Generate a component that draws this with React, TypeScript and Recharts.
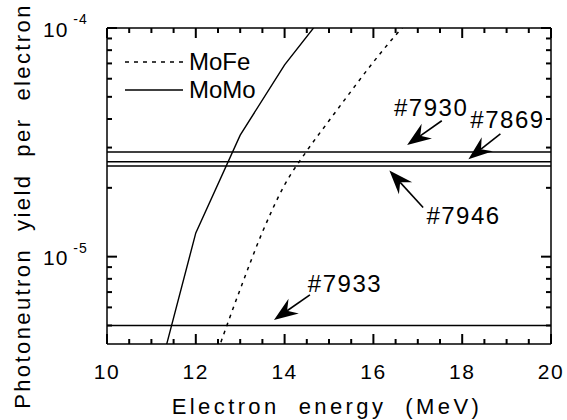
import React from 'react';
import { LineChart, Line, XAxis, YAxis, ReferenceLine, ReferenceDot, Legend } from 'recharts';

const FONT = '"Liberation Sans", Arial, Helvetica, sans-serif';

// curves (electron energy in MeV, photoneutron yield per electron)
const momoEnergy = [11, 12, 13, 14, 15];
const momoYield = [2.3e-6, 1.27e-5, 3.4e-5, 6.9e-5, 1.22e-4];
const mofeEnergy = [12.5, 13, 13.5, 14, 14.5, 15, 15.5, 16, 16.5, 17];
const mofeYield = [3.9e-6, 7.2e-6, 1.28e-5, 2.06e-5, 2.9e-5, 3.93e-5, 5.3e-5, 7.1e-5, 9.3e-5, 1.18e-4];

// measured runs (horizontal lines)
const runNames = ['#7930', '#7869', '#7946', '#7933'];
const runYield = [2.87e-5, 2.6e-5, 2.49e-5, 5.0e-6];
// arrow tail / tip and label centre, in data units
const arrowTail = [[17.54, 3.93e-5], [18.86, 3.44e-5], [17.12, 1.64e-5], [14.57, 6.8e-6]];
const arrowTip = [[16.76, 3.08e-5], [18.14, 2.67e-5], [16.36, 2.38e-5], [13.76, 5.29e-6]];
const labelPos = [[17.3, 4.47e-5], [19.02, 3.96e-5], [18.03, 1.51e-5], [15.36, 7.67e-6]];

// axes
const xDomain = [10, 20];
const xTicks = [10, 10.5, 11, 11.5, 12, 12.5, 13, 13.5, 14, 14.5, 15, 15.5, 16, 16.5, 17, 17.5, 18, 18.5, 19, 19.5, 20];
const xLabelTicks = [10, 12, 14, 16, 18, 20];
const yDomain = [4.15e-6, 1e-4];
const yTicks = [5e-6, 6e-6, 7e-6, 8e-6, 9e-6, 1e-5, 2e-5, 3e-5, 4e-5, 5e-5, 6e-5, 7e-5, 8e-5, 9e-5, 1e-4];
const yLabelTicks = [1e-5, 1e-4];
const yLabelExp = ['-5', '-4'];

const legendItems = [
  { name: 'MoFe', dash: '4 5' },
  { name: 'MoMo', dash: undefined },
];

const momoData = momoEnergy.map((e, i) => ({ e, v: momoYield[i] }));
const mofeData = mofeEnergy.map((e, i) => ({ e, v: mofeYield[i] }));

const MAJOR = 10;
const MINOR = 5;
const TICK_W = 2;

const isYMajor = (v: number) => yLabelTicks.findIndex((t) => Math.abs(t - v) / t < 1e-6);

// inward tick marks at both ends of a reference line
const vTicks = (len: number) => (p: any) => {
  const top = Math.min(p.y1, p.y2);
  const bottom = Math.max(p.y1, p.y2);
  return (
    <g>
      <line x1={p.x1} y1={top} x2={p.x1} y2={top + len} stroke="#000" strokeWidth={TICK_W} />
      <line x1={p.x1} y1={bottom} x2={p.x1} y2={bottom - len} stroke="#000" strokeWidth={TICK_W} />
    </g>
  );
};

const hTicks = (len: number) => (p: any) => {
  const left = Math.min(p.x1, p.x2);
  const right = Math.max(p.x1, p.x2);
  return (
    <g>
      <line x1={left} y1={p.y1} x2={left + len} y2={p.y1} stroke="#000" strokeWidth={TICK_W} />
      <line x1={right} y1={p.y1} x2={right - len} y2={p.y1} stroke="#000" strokeWidth={TICK_W} />
    </g>
  );
};

const bottomLabel = (props: any) => {
  const { x, y, payload } = props;
  if (!xLabelTicks.includes(payload.value)) return <g />;
  return (
    <text x={x} y={y + 27} textAnchor="middle" dominantBaseline="central" fontSize={21} fontFamily={FONT} letterSpacing={1.5} fill="#000">
      {payload.value}
    </text>
  );
};

const leftLabel = (props: any) => {
  const { x, y, payload } = props;
  const idx = isYMajor(payload.value);
  if (idx < 0) return <g />;
  return (
    <text x={x - 64} y={y + 1} dominantBaseline="central" fontSize={21} fontFamily={FONT} letterSpacing={1} fill="#000">
      10
      <tspan dx={5} dy={-10} fontSize={14}>{yLabelExp[idx]}</tspan>
    </text>
  );
};

const Arrow = (props: any) => {
  const { x1, y1, x2, y2 } = props;
  const dx = x2 - x1;
  const dy = y2 - y1;
  const len = Math.sqrt(dx * dx + dy * dy) || 1;
  const ux = dx / len;
  const uy = dy / len;
  const L = 24;
  const W = 9;
  const N = 16;
  const bx = x2 - ux * L;
  const by = y2 - uy * L;
  const pts = [
    [x2, y2],
    [bx - uy * W, by + ux * W],
    [x2 - ux * N, y2 - uy * N],
    [bx + uy * W, by - ux * W],
  ];
  return (
    <g>
      <line x1={x1} y1={y1} x2={x2 - ux * N} y2={y2 - uy * N} stroke="#000" strokeWidth={1.6} />
      <polygon points={pts.map((p) => p.join(',')).join(' ')} fill="#000" />
    </g>
  );
};

const renderLegend = () => (
  <div>
    {legendItems.map((item) => (
      <div key={item.name} style={{ display: 'flex', alignItems: 'center', height: 28 }}>
        <svg width={58} height={10}>
          <line x1={0} y1={5} x2={58} y2={5} stroke="#000" strokeWidth={1.3} strokeDasharray={item.dash} />
        </svg>
        <span style={{ marginLeft: 6, fontSize: 24, fontFamily: FONT, color: '#000', lineHeight: '28px', whiteSpace: 'nowrap' }}>{item.name}</span>
      </div>
    ))}
  </div>
);

const xTitle = (p: any) => {
  const vb = p.viewBox;
  return (
    <text x={vb.x + vb.width / 2 - 2} y={vb.y + 62} textAnchor="middle" dominantBaseline="central" fontSize={22} fontFamily={FONT} letterSpacing={3.4} fill="#000" xmlSpace="preserve" style={{ whiteSpace: 'pre' }}>
      {'Electron  energy  (MeV)'}
    </text>
  );
};

const yTitle = (p: any) => {
  const vb = p.viewBox;
  const cx = vb.x + vb.width - 85;
  const cy = vb.y + vb.height / 2 + 20;
  return (
    <text x={cx} y={cy} transform={`rotate(-90 ${cx} ${cy})`} textAnchor="middle" dominantBaseline="central" fontSize={22} fontFamily={FONT} letterSpacing={2.4} fill="#000" xmlSpace="preserve" style={{ whiteSpace: 'pre' }}>
      {'Photoneutron  yield  per  electron'}
    </text>
  );
};

const axisLine = { stroke: '#000', strokeWidth: 1.5 };

export default function App() {
  return (
    <div style={{ position: 'absolute', left: 0, top: 0, width: 567, height: 420, background: '#fff' }}>
      <LineChart width={567} height={420} margin={{ top: 27, right: 15, bottom: 75, left: 106 }}>
        <XAxis
          dataKey="e"
          type="number"
          domain={xDomain}
          ticks={xTicks}
          interval={0}
          allowDataOverflow
          height={1}
          tickSize={0}
          tickMargin={0}
          tick={bottomLabel}
          tickLine={false}
          axisLine={axisLine}
          label={{ content: xTitle }}
        />
        <XAxis
          xAxisId="top"
          orientation="top"
          type="number"
          domain={xDomain}
          ticks={xTicks}
          allowDataOverflow
          height={1}
          tick={false}
          tickLine={false}
          axisLine={axisLine}
        />
        <YAxis
          scale="log"
          type="number"
          domain={yDomain}
          ticks={yTicks}
          interval={0}
          allowDataOverflow
          width={1}
          tickSize={0}
          tickMargin={0}
          tick={leftLabel}
          tickLine={false}
          axisLine={axisLine}
          label={{ content: yTitle }}
        />
        <YAxis
          yAxisId="right"
          orientation="right"
          scale="log"
          type="number"
          domain={yDomain}
          ticks={yTicks}
          allowDataOverflow
          width={1}
          tick={false}
          tickLine={false}
          axisLine={axisLine}
        />
        <Legend content={renderLegend} layout="vertical" align="center" verticalAlign="middle" wrapperStyle={{ left: 125, top: 48, width: 'auto' }} />
        {xTicks.map((t) => (
          <ReferenceLine key={'xt' + t} x={t} shape={vTicks(xLabelTicks.includes(t) ? MAJOR : MINOR)} />
        ))}
        {yTicks.map((t) => (
          <ReferenceLine key={'yt' + t} y={t} shape={hTicks(isYMajor(t) >= 0 ? MAJOR : MINOR)} />
        ))}
        {runYield.map((v, i) => (
          <ReferenceLine key={runNames[i]} y={v} stroke="#000" strokeWidth={1.4} />
        ))}
        <Line data={mofeData} dataKey="v" name="MoFe" type="monotone" stroke="#000" strokeWidth={1.5} strokeDasharray="3.5 5" dot={false} isAnimationActive={false} legendType="plainline" />
        <Line data={momoData} dataKey="v" name="MoMo" type="linear" stroke="#000" strokeWidth={1.4} dot={false} isAnimationActive={false} legendType="plainline" />
        {runNames.map((name, i) => (
          <ReferenceLine
            key={'a' + name}
            segment={[
              { x: arrowTail[i][0], y: arrowTail[i][1] },
              { x: arrowTip[i][0], y: arrowTip[i][1] },
            ]}
            shape={Arrow}
          />
        ))}
        {runNames.map((name, i) => (
          <ReferenceDot
            key={'t' + name}
            x={labelPos[i][0]}
            y={labelPos[i][1]}
            r={0}
            shape={(p: any) => (
              <text x={p.cx} y={p.cy} textAnchor="middle" dominantBaseline="central" fontSize={24} fontFamily={FONT} letterSpacing={1.5} fill="#000">
                {name}
              </text>
            )}
          />
        ))}
      </LineChart>
    </div>
  );
}
